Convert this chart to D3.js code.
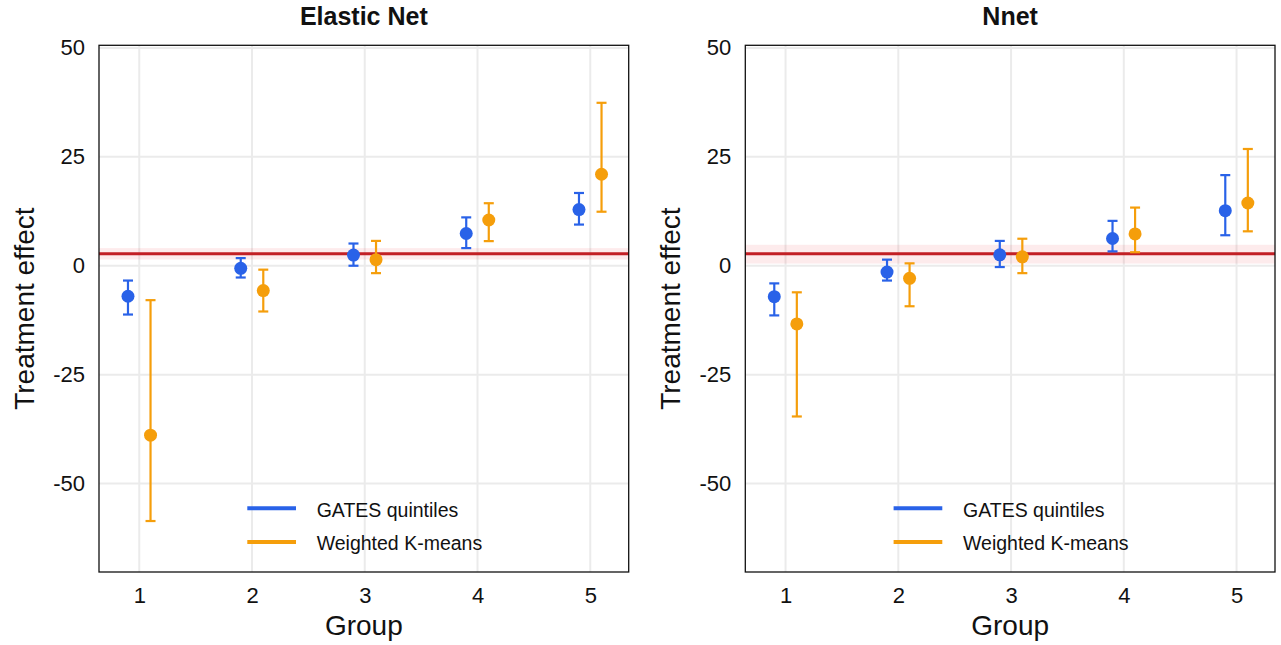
<!DOCTYPE html>
<html>
<head>
<meta charset="utf-8">
<script src="https://cdn.jsdelivr.net/npm/d3@7"></script>
<style>
  body { margin: 0; background: #fff; }
  svg { font-family: "Liberation Sans", Arial, sans-serif; }
</style>
</head>
<body>
<svg id="chart"></svg>
<script>
const width = 1281;
const height = 645;

// data
const groups = [1, 2, 3, 4, 5];
const yTicks = [-50, -25, 0, 25, 50];
const seriesNames = ["GATES quintiles", "Weighted K-means"];
const seriesColors = ["#2962e8", "#f59e0b"];

const enetGatesEst = [-7.0, -0.6, 2.45, 7.4, 12.9];
const enetGatesLo = [-11.2, -2.7, 0.0, 4.05, 9.45];
const enetGatesHi = [-3.4, 1.75, 5.1, 11.1, 16.7];
const enetKmEst = [-38.9, -5.7, 1.4, 10.5, 21.0];
const enetKmLo = [-58.6, -10.5, -1.7, 5.65, 12.4];
const enetKmHi = [-7.9, -0.9, 5.7, 14.35, 37.4];

const nnetGatesEst = [-7.1, -1.45, 2.5, 6.25, 12.65];
const nnetGatesLo = [-11.4, -3.4, -0.3, 3.3, 7.0];
const nnetGatesHi = [-4.05, 1.4, 5.7, 10.3, 20.8];
const nnetKmEst = [-13.35, -2.9, 2.05, 7.3, 14.4];
const nnetKmLo = [-34.6, -9.3, -1.7, 3.1, 7.9];
const nnetKmHi = [-6.1, 0.55, 6.2, 13.35, 26.8];

// overall ATE line with its band
const panelTitles = ["Elastic Net", "Nnet"];
const ateEst = [2.75, 2.75];
const ateLo = [1.43, 0.5];
const ateHi = [4.05, 4.8];

const panels = [
  { title: panelTitles[0], left: 99, ate: ateEst[0], ateLo: ateLo[0], ateHi: ateHi[0],
    series: [[enetGatesEst, enetGatesLo, enetGatesHi], [enetKmEst, enetKmLo, enetKmHi]] },
  { title: panelTitles[1], left: 745.3, ate: ateEst[1], ateLo: ateLo[1], ateHi: ateHi[1],
    series: [[nnetGatesEst, nnetGatesLo, nnetGatesHi], [nnetKmEst, nnetKmLo, nnetKmHi]] }
];

const plotW = 529.7;
const plotTop = 45.3;
const plotBottom = 572;
const dodge = [-0.1, 0.1];
const ink = "#111";

const svg = d3.select("#chart")
    .attr("width", width)
    .attr("height", height);

const y = d3.scaleLinear()
    .domain([-70.3, 50.6])
    .range([plotBottom, plotTop]);

panels.forEach(function(p) {
  const x = d3.scaleLinear()
      .domain([0.643, 5.341])
      .range([p.left, p.left + plotW]);

  const g = svg.append("g");

  // grid
  g.selectAll(".hgrid").data(yTicks).join("line")
      .attr("x1", p.left).attr("x2", p.left + plotW)
      .attr("y1", d => y(d)).attr("y2", d => y(d))
      .attr("stroke", "#ebebeb").attr("stroke-width", 2);
  g.selectAll(".vgrid").data(groups).join("line")
      .attr("x1", d => x(d)).attr("x2", d => x(d))
      .attr("y1", plotTop).attr("y2", plotBottom)
      .attr("stroke", "#ebebeb").attr("stroke-width", 2);

  // ATE band and line
  g.append("rect")
      .attr("x", p.left).attr("width", plotW)
      .attr("y", y(p.ateHi)).attr("height", y(p.ateLo) - y(p.ateHi))
      .attr("fill", "#e8262a").attr("fill-opacity", 0.09);
  g.append("line")
      .attr("x1", p.left).attr("x2", p.left + plotW)
      .attr("y1", y(p.ate)).attr("y2", y(p.ate))
      .attr("stroke", "#c21f25").attr("stroke-width", 3);

  // error bars and points
  p.series.forEach(function(s, si) {
    const [est, lo, hi] = s;
    const color = seriesColors[si];
    const sg = g.append("g");
    groups.forEach(function(grp, i) {
      const cx = x(grp + dodge[si]);
      sg.append("line")
          .attr("x1", cx).attr("x2", cx)
          .attr("y1", y(lo[i])).attr("y2", y(hi[i]))
          .attr("stroke", color).attr("stroke-width", 2.2);
      [lo[i], hi[i]].forEach(function(v) {
        sg.append("line")
            .attr("x1", cx - 5).attr("x2", cx + 5)
            .attr("y1", y(v)).attr("y2", y(v))
            .attr("stroke", color).attr("stroke-width", 2.2);
      });
      sg.append("circle")
          .attr("cx", cx).attr("cy", y(est[i]))
          .attr("r", 6.5)
          .attr("fill", color);
    });
  });

  // legend
  const lx = p.left + 148.3;
  seriesNames.forEach(function(name, i) {
    const ly = 508.3 + i * 33.7;
    g.append("line")
        .attr("x1", lx).attr("x2", lx + 48.7)
        .attr("y1", ly).attr("y2", ly)
        .attr("stroke", seriesColors[i]).attr("stroke-width", 4);
    g.append("text")
        .attr("x", lx + 69.4).attr("y", ly + 8.2)
        .attr("font-size", 19.5).attr("fill", ink)
        .text(name);
  });

  // panel border
  g.append("rect")
      .attr("x", p.left).attr("y", plotTop)
      .attr("width", plotW).attr("height", plotBottom - plotTop)
      .attr("fill", "none").attr("stroke", ink).attr("stroke-width", 1.3);

  // axes
  const yAxis = g.append("g")
      .attr("transform", `translate(${p.left},0)`)
      .call(d3.axisLeft(y).tickValues(yTicks).tickFormat(d => String(d)).tickSize(0).tickPadding(14));
  yAxis.select(".domain").remove();
  yAxis.selectAll("text").attr("font-size", 22).attr("fill", ink)
      .attr("font-family", "Liberation Sans, Arial, sans-serif");

  const xAxis = g.append("g")
      .attr("transform", `translate(0,${plotBottom})`)
      .call(d3.axisBottom(x).tickValues(groups).tickFormat(d => String(d)).tickSize(0).tickPadding(15));
  xAxis.select(".domain").remove();
  xAxis.selectAll("text").attr("font-size", 22).attr("fill", ink)
      .attr("font-family", "Liberation Sans, Arial, sans-serif");

  // titles
  g.append("text")
      .attr("x", p.left + plotW / 2).attr("y", 25)
      .attr("text-anchor", "middle")
      .attr("font-size", 25).attr("font-weight", "bold").attr("fill", ink)
      .text(p.title);
  g.append("text")
      .attr("x", p.left + plotW / 2).attr("y", 635)
      .attr("text-anchor", "middle")
      .attr("font-size", 28).attr("fill", ink)
      .text("Group");
  g.append("text")
      .attr("transform", `translate(${p.left - 65.5},${(plotTop + plotBottom) / 2}) rotate(-90)`)
      .attr("text-anchor", "middle")
      .attr("font-size", 28).attr("fill", ink)
      .text("Treatment effect");
});
</script>
</body>
</html>
